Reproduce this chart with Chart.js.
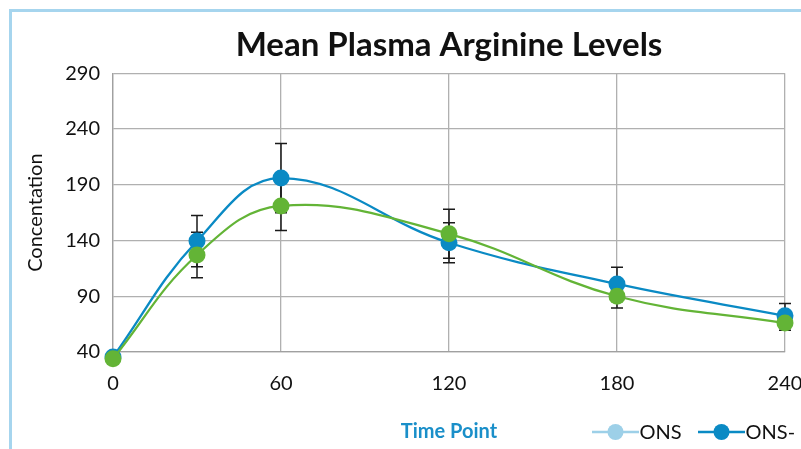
<!DOCTYPE html>
<html>
<head>
<meta charset="utf-8">
<script src="https://cdn.jsdelivr.net/npm/chart.js@4.4.1/dist/chart.umd.min.js"></script>
<style>
  html, body { margin: 0; padding: 0; background: #fff; overflow: hidden; width: 801px; height: 449px; }
  #frame { position: absolute; left: 9px; top: 9px; width: 900px; height: 480px;
           border-left: 3px solid #a6d5ee; border-top: 3px solid #a6d5ee; }
  #wrap { position: absolute; left: 0; top: 0; width: 880px; height: 460px; }
</style>
</head>
<body>
<div id="frame"><div id="wrap"><canvas id="c"></canvas></div></div>
<script>
// ---- data ----
const timePoints = [0, 30, 60, 120, 180, 240];
const xTicks = [0, 60, 120, 180, 240];
const yTicks = [40, 90, 140, 190, 240, 290];
const seriesNames = ['ONS', 'ONS-'];
const onsValues = [34, 127, 171, 146, 90, 66];
const onsErrors = [2, 20.5, 22, 22, 10.5, 6.5];
const onsPlusValues = [35.5, 139.5, 196, 138, 101, 72.5];
const onsPlusErrors = [2, 23, 31, 18, 15, 11];

const lineColors = ['#63b436', '#0a8ac4'];
const legendColors = ['#9dd0e8', '#0a8ac4'];
const FONT = 'Lato, "Noto Sans", sans-serif';

function toPoints(vals) { return timePoints.map((t, i) => ({ x: t, y: vals[i] })); }

const errorBars = {
  id: 'errorBars',
  beforeDatasetsDraw(chart) {
    const ctx = chart.ctx, xs = chart.scales.x, ys = chart.scales.y;
    const errs = [onsErrors, onsPlusErrors];
    const vals = [onsValues, onsPlusValues];
    ctx.save();
    ctx.strokeStyle = '#1a1a1a';
    ctx.lineWidth = 1.5;
    for (let s = 0; s < 2; s++) {
      for (let i = 0; i < timePoints.length; i++) {
        const x = xs.getPixelForValue(timePoints[i]);
        const yt = ys.getPixelForValue(vals[s][i] + errs[s][i]);
        const yb = ys.getPixelForValue(vals[s][i] - errs[s][i]);
        ctx.beginPath();
        ctx.moveTo(x, yt); ctx.lineTo(x, yb);
        ctx.moveTo(x - 6, yt); ctx.lineTo(x + 6, yt);
        ctx.moveTo(x - 6, yb); ctx.lineTo(x + 6, yb);
        ctx.stroke();
      }
    }
    ctx.restore();
  }
};

const customLegend = {
  id: 'customLegend',
  afterDraw(chart) {
    const ctx = chart.ctx;
    const y = 420;
    const starts = [580, 686];
    ctx.save();
    ctx.font = '20px ' + FONT;
    ctx.textBaseline = 'middle';
    for (let s = 0; s < 2; s++) {
      const x0 = starts[s];
      ctx.strokeStyle = legendColors[s];
      ctx.lineWidth = 2.5;
      ctx.beginPath(); ctx.moveTo(x0, y); ctx.lineTo(x0 + 47, y); ctx.stroke();
      ctx.fillStyle = legendColors[s];
      ctx.beginPath(); ctx.arc(x0 + 23.5, y, 8, 0, Math.PI * 2); ctx.fill();
      ctx.fillStyle = '#111';
      ctx.fillText(seriesNames[s], x0 + 47.5, y + 1);
    }
    ctx.restore();
  }
};

new Chart(document.getElementById('c'), {
  type: 'line',
  data: {
    datasets: [
      { label: seriesNames[0], data: toPoints(onsValues), borderColor: lineColors[0], backgroundColor: lineColors[0],
        borderWidth: 2.3, pointRadius: 8.5, pointHoverRadius: 8.5, pointBorderWidth: 0, tension: 0.4, clip: false },
      { label: seriesNames[1], data: toPoints(onsPlusValues), borderColor: lineColors[1], backgroundColor: lineColors[1],
        borderWidth: 2.3, pointRadius: 8.5, pointHoverRadius: 8.5, pointBorderWidth: 0, tension: 0.4, clip: false }
    ]
  },
  options: {
    responsive: true,
    maintainAspectRatio: false,
    animation: false,
    events: [],
    layout: { padding: { left: 4, right: 107, top: 0, bottom: 0 } },
    plugins: {
      legend: { display: false },
      tooltip: { enabled: false },
      title: {
        display: true,
        text: 'Mean Plasma Arginine Levels',
        fullSize: false,
        color: '#111',
        font: { family: FONT, size: 33, weight: 'bold' },
        padding: { top: 14, bottom: 7.7 }
      }
    },
    scales: {
      x: {
        type: 'linear', min: 0, max: 240,
        afterBuildTicks(scale) { scale.ticks = xTicks.map(v => ({ value: v })); },
        grid: { color: '#b0b0b0', lineWidth: 1.3, drawTicks: false },
        border: { color: '#a0a0a0', width: 1.3 },
        ticks: { color: '#111', font: { family: FONT, size: 20 }, padding: 20, maxRotation: 0 },
        title: { display: true, text: 'Time Point', color: '#1a8fc9',
                 font: { family: FONT, size: 20, weight: 'bold' }, padding: { top: 4, bottom: 28 } }
      },
      y: {
        min: 40, max: 290,
        afterBuildTicks(scale) { scale.ticks = yTicks.map(v => ({ value: v })); },
        afterFit(scale) { scale.width = 97; },
        grid: { color: '#b0b0b0', lineWidth: 1.3, drawTicks: false },
        border: { color: '#a0a0a0', width: 1.3 },
        ticks: { color: '#111', font: { family: FONT, size: 20 }, padding: 13 },
        title: { display: true, text: 'Concentation', color: '#111',
                 font: { family: FONT, size: 20 }, padding: { top: 8, bottom: 0 } }
      }
    }
  },
  plugins: [errorBars, customLegend]
});
</script>
</body>
</html>
